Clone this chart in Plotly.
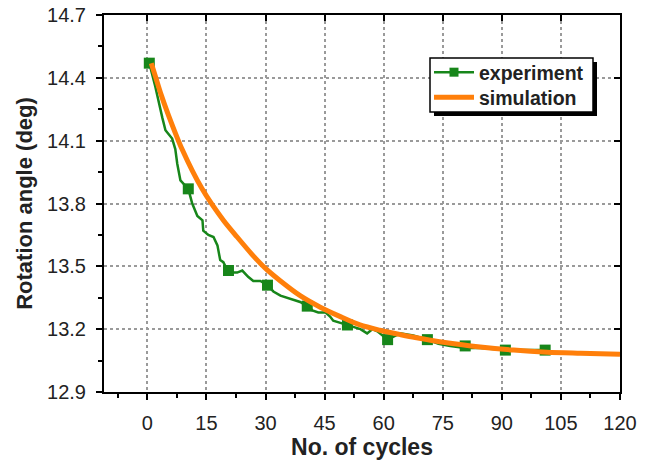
import plotly.graph_objects as go

# Experiment curve (traced)
exp_x = [0.5, 2.0, 3.8, 4.6, 6.3, 7.1, 7.6, 8.4, 10.4, 11.4, 12.7, 14.0, 14.2, 15.5, 16.8,
         17.8, 18.5, 19.3, 20.6, 22.8, 24.1, 25.6, 26.9, 28.7, 30.5, 32.0, 33.8, 35.5, 37.1,
         38.8, 40.6, 41.9, 43.4, 45.2, 46.4, 47.2, 49.0, 50.8, 52.3, 54.1, 55.8, 57.1, 58.4,
         60.4, 61.0, 64.2, 67.5, 71.1, 73.9, 76.9, 80.7, 84.5, 90.9, 95.4, 101.0]
exp_y = [14.47, 14.36, 14.21, 14.15, 14.11, 14.06, 13.99, 13.91, 13.87, 13.80, 13.74, 13.72,
         13.67, 13.65, 13.64, 13.60, 13.53, 13.52, 13.47, 13.47, 13.48, 13.45, 13.43, 13.43,
         13.41, 13.38, 13.36, 13.35, 13.34, 13.33, 13.31, 13.29, 13.28, 13.28, 13.26, 13.24,
         13.23, 13.22, 13.21, 13.20, 13.18, 13.20, 13.19, 13.16, 13.15, 13.18, 13.17, 13.15,
         13.13, 13.12, 13.11, 13.11, 13.10, 13.10, 13.10]

# Experiment markers
mk_x = [0.5, 10.4, 20.6, 30.5, 40.6, 50.8, 61.0, 71.1, 80.7, 90.9, 101.0]
mk_y = [14.47, 13.87, 13.48, 13.41, 13.31, 13.22, 13.15, 13.15, 13.12, 13.10, 13.10]

# Simulation curve
sim_x = [1, 2, 3.5, 5.4, 8.8, 13.9, 19.3, 22.8, 26.9, 30, 33.8, 38.8, 43.9, 49, 54, 59, 64,
         68, 76, 84.5, 93, 101.5, 110, 120]
sim_y = [14.47, 14.41, 14.32, 14.22, 14.06, 13.87, 13.72, 13.64, 13.55, 13.49, 13.43, 13.36,
         13.305, 13.26, 13.22, 13.195, 13.175, 13.16, 13.135, 13.115, 13.10, 13.09, 13.085, 13.08]

x_range = [-11, 120]
y_range = [12.9, 14.7]

GREEN = "#17861a"
ORANGE = "#ff7f0a"
FONT = "Liberation Sans, Arial, sans-serif"

fig = go.Figure()
fig.add_trace(go.Scatter(x=exp_x, y=exp_y, mode="lines", line=dict(color=GREEN, width=2.5),
                         showlegend=False, hoverinfo="skip"))
fig.add_trace(go.Scatter(x=mk_x, y=mk_y, mode="markers",
                         marker=dict(symbol="square", size=11, color=GREEN),
                         showlegend=False))
fig.add_trace(go.Scatter(x=sim_x, y=sim_y, mode="lines",
                         line=dict(color=ORANGE, width=5, shape="spline", smoothing=0.8),
                         showlegend=False))
# legend entries (each in its own legend for exact placement)
fig.add_trace(go.Scatter(x=[None], y=[None], mode="lines+markers", name="experiment",
                         line=dict(color=GREEN, width=2.5), legend="legend",
                         marker=dict(symbol="square", size=9, color=GREEN)))
fig.add_trace(go.Scatter(x=[None], y=[None], mode="lines", name="simulation",
                         line=dict(color=ORANGE, width=5), legend="legend2"))
# invisible trace for top/right mirrored axes
fig.add_trace(go.Scatter(x=[None], y=[None], xaxis="x2", yaxis="y2", showlegend=False))

L, R, T, B = 104, 30, 15, 70
W, H = 650, 462
pw, ph = W - L - R, H - T - B

def px2paper(x, y):
    return (x - L) / pw, (H - B - y) / ph

# legend frame + drop shadow
sx0, sy0 = px2paper(434, 116)
sx1, sy1 = px2paper(597, 62)
bx0, by0 = px2paper(430, 112)
bx1, by1 = px2paper(593, 58)
fig.add_shape(type="rect", xref="paper", yref="paper", x0=sx0, y0=sy0, x1=sx1, y1=sy1,
              fillcolor="black", line=dict(width=0), layer="above")
fig.add_shape(type="rect", xref="paper", yref="paper", x0=bx0, y0=by0, x1=bx1, y1=by1,
              fillcolor="white", line=dict(width=1.5, color="black"), layer="above")
l1x, l1y = px2paper(429, 53)
l2x, l2y = px2paper(429, 78)

axis_common = dict(showline=True, linecolor="black", linewidth=2, zeroline=False,
                   tickfont=dict(family=FONT, size=20, color="#222"),
                   tickcolor="black", tickwidth=1.5, automargin=False)

legend_common = dict(xanchor="left", yanchor="top", bgcolor="rgba(0,0,0,0)", borderwidth=0,
                     font=dict(family=FONT, size=19.5, color="#222", weight="bold"),
                     tracegroupgap=0, itemwidth=40)

fig.update_layout(
    width=W, height=H,
    margin=dict(l=L, r=R, t=T, b=B, autoexpand=False),
    paper_bgcolor="white", plot_bgcolor="white",
    font=dict(family=FONT, color="#222"),
    xaxis=dict(range=x_range, tick0=0, dtick=15, ticks="outside", ticklen=6,
               showgrid=True, gridcolor="#9a9a9a", griddash="dot", gridwidth=1.5,
               minor=dict(dtick=7.5, tick0=0, ticks="outside", ticklen=4, tickcolor="black", showgrid=False),
               title=dict(text="<b>No. of cycles</b>", font=dict(family=FONT, size=23, color="#222"), standoff=5),
               ticklabelstandoff=6,
               **axis_common),
    yaxis=dict(range=y_range, tick0=12.9, dtick=0.3, tickformat=".1f", ticks="outside", ticklen=6,
               showgrid=True, gridcolor="#9a9a9a", griddash="dot", gridwidth=1.5,
               minor=dict(dtick=0.15, tick0=12.9, ticks="outside", ticklen=4, tickcolor="black", showgrid=False),
               title=dict(text="<b>Rotation angle (deg)</b>", font=dict(family=FONT, size=22, color="#222"), standoff=8),
               ticklabelstandoff=6,
               **axis_common),
    xaxis2=dict(range=x_range, overlaying="x", side="top", tick0=0, dtick=15, ticks="inside",
                ticklen=6, showticklabels=False, showgrid=False, showline=True, linecolor="black",
                linewidth=2, tickcolor="black", tickwidth=1.5, zeroline=False, automargin=False),
    yaxis2=dict(range=y_range, overlaying="y", side="right", tick0=12.9, dtick=0.3, ticks="inside",
                ticklen=6, showticklabels=False, showgrid=False, showline=True, linecolor="black",
                linewidth=2, tickcolor="black", tickwidth=1.5, zeroline=False, automargin=False),
    legend=dict(x=l1x, y=l1y, **legend_common),
    legend2=dict(x=l2x, y=l2y, **legend_common),
    showlegend=True,
)

fig.write_html("out.html")
